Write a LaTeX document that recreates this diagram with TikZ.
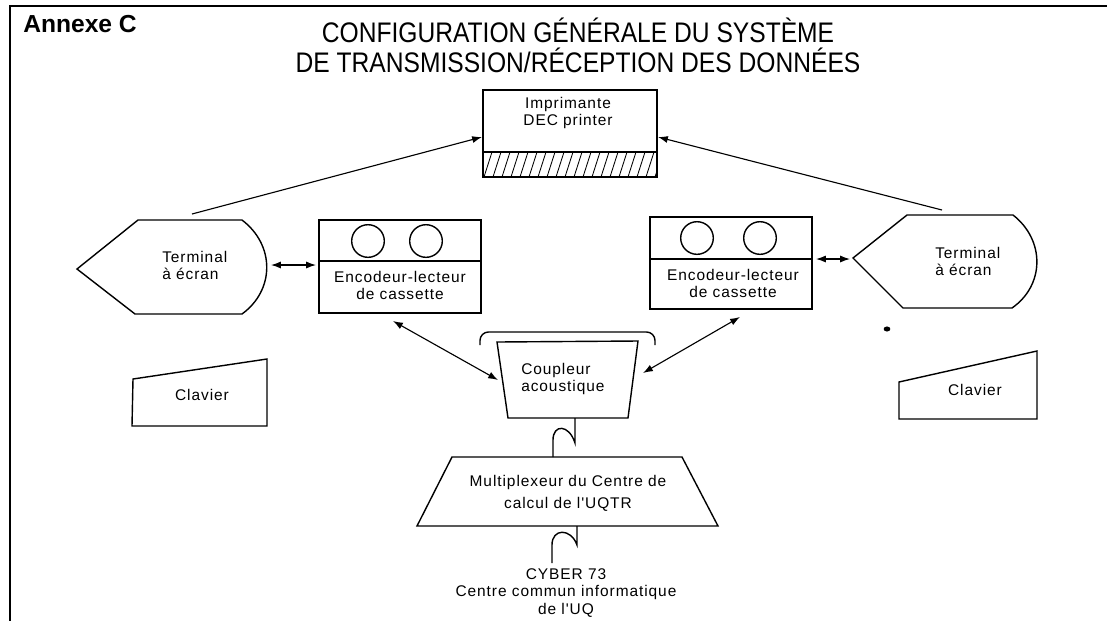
\documentclass[tikz,border=0pt]{standalone}
\usepackage{fontspec}
\setmainfont{Liberation Sans}
\newfontfamily\labelfont{Liberation Sans}[LetterSpace=6]
\usetikzlibrary{arrows.meta}

\def\lw{1pt}
\def\tall#1{\scalebox{1}[1.15]{#1}}
\tikzset{
  boxline/.style={line width=\lw},
  txt/.style={font=\labelfont\fontsize{11}{12.2}\selectfont,inner sep=0pt,align=center},
  duplex/.style={line width=.8pt,{Latex[length=7pt,width=5pt]}-{Latex[length=7pt,width=5pt]}},
  tofeed/.style={line width=.8pt,-{Latex[length=7pt,width=5pt]}},
  titletxt/.style={font=\fontsize{17.5}{21.3}\selectfont,inner sep=0pt,align=center}
}

\begin{document}
\begin{tikzpicture}[x=.025cm,y=-.025cm]
  \useasboundingbox (0,0) rectangle (1107,621);
  % cadre et titre
  \draw[line width=1pt] (1107,6) -- (10,6) -- (10,621);
  \node[titletxt,font=\bfseries\fontsize{17.5}{21}\selectfont,anchor=west] (annexe) at (23,24) {Annexe C};
  \node[titletxt] (titre) at (578,45) {\tall{CONFIGURATION GÉNÉRALE DU SYSTÈME}\\\tall{DE TRANSMISSION/RÉCEPTION DES DONNÉES}};

  % imprimante
  \begin{scope}
    \clip (483,152) rectangle (657,177);
    \foreach \h in {0,...,20}
      \draw[line width=.6pt] (475+9*\h,177) -- ++(8,-25);
  \end{scope}
  \draw[boxline] (483,90) rectangle (657,177);
  \draw[boxline] (483,152) -- (657,152);
  \node[txt] (prn) at (568,113) {Imprimante\\DEC printer};
  \coordinate (prn-w) at (482,137);
  \coordinate (prn-e) at (658,137);

  % terminal gauche
  \draw[boxline] (77,269) -- (138,220) -- (242,220) .. controls (275,245) and (275,290) .. (242,314) -- (135,314) -- cycle;
  \node[txt,align=left,anchor=west] (termL) at (162,265.5) {Terminal\\à écran};
  \coordinate (termL-e) at (271,265);
  \coordinate (termL-n) at (192,214);

  % encodeur gauche
  \draw[boxline] (319,220) rectangle (481,313);
  \draw[boxline] (319,261) -- (481,261);
  \foreach \cx in {368,426}
    \draw[boxline] (\cx,241) circle[radius=11.6pt];
  \node[txt] (encL) at (400,285.5) {Encodeur-lecteur\\de cassette};
  \coordinate (encL-w) at (316,265);
  \coordinate (encL-s) at (393,321);

  % encodeur droit
  \draw[boxline] (650,217) rectangle (812,309);
  \draw[boxline] (650,259) -- (812,259);
  \foreach \cx in {697,760}
    \draw[boxline] (\cx,238) circle[radius=11.6pt];
  \node[txt] (encR) at (733,283.5) {Encodeur-lecteur\\de cassette};
  \coordinate (encR-e) at (816,259);
  \coordinate (encR-s) at (740,317);

  % terminal droit
  \draw[boxline] (853,258) -- (907,215) -- (1013,215) .. controls (1045,240) and (1045,285) .. (1012,308) -- (903,308) -- cycle;
  \node[txt,align=left,anchor=west] (termR) at (935,261.5) {Terminal\\à écran};
  \coordinate (termR-w) at (850,259);
  \coordinate (termR-n) at (942,210);
  \fill (887,329) circle[x radius=2.4pt,y radius=1.8pt];

  % claviers
  \draw[boxline] (133,379) -- (267,359) -- (267,426) -- (132,426) -- cycle;
  \node[txt] (clavL) at (202,395) {Clavier};
  \draw[boxline] (899,382) -- (1037,351) -- (1037,419) -- (899,419) -- cycle;
  \node[txt] (clavR) at (975,390) {Clavier};

  % coupleur
  \draw[boxline,rounded corners=6pt] (480,345) -- (480,332) -- (655,332) -- (655,345);
  \draw[boxline] (497,342) -- (638,341) -- (628,418) -- (508,418) -- cycle;
  \node[txt,align=left,anchor=west] (cpl) at (521,379) {Coupleur\\acoustique};
  \coordinate (cpl-w) at (498,380);
  \coordinate (cpl-e) at (643,373);
  \coordinate (cpl-s) at (575,418);

  % multiplexeur
  \draw[boxline] (452,457) -- (682,457) -- (718,526) -- (417,526) -- cycle;
  \node[txt] (mux) at (568,493.5) {Multiplexeur du Centre de\\[3pt]calcul de l'UQTR};
  \coordinate (mux-n) at (553,457);
  \coordinate (mux-s) at (577,526);

  \node[txt] (cyber) at (566,593) {CYBER 73\\Centre commun informatique\\de l'UQ};
  \coordinate (cyber-n) at (552,563);

  % liaisons
  \draw[tofeed] (termL-n) -- (prn-w);
  \draw[tofeed] (termR-n) -- (prn-e);
  \draw[duplex] (termL-e) -- (encL-w);
  \draw[duplex] (encR-e) -- (termR-w);
  \draw[duplex] (encL-s) -- (cpl-w);
  \draw[duplex] (encR-s) -- (cpl-e);
  \draw[boxline] (cpl-s) -- (575,443) .. controls (569,424) and (553,424) .. (553,440) -- (mux-n);
  \draw[boxline] (mux-s) -- (577,545) .. controls (571,528) and (552,528) .. (552,545) -- (cyber-n);
\end{tikzpicture}
\end{document}
